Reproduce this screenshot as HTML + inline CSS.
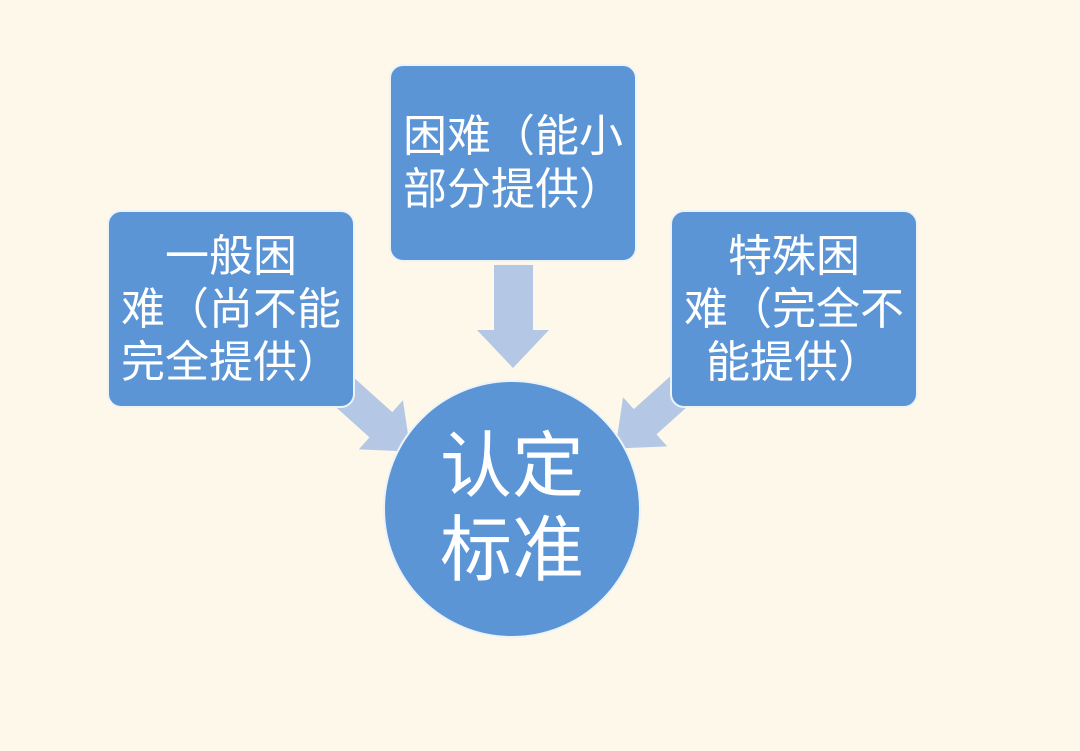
<!DOCTYPE html>
<html><head><meta charset="utf-8"><style>
body{margin:0;width:1080px;height:751px;background:#fdf8e9;position:relative;overflow:hidden;font-family:"Liberation Sans","Noto Sans CJK SC",sans-serif;}
.b{position:absolute;width:244px;height:194px;background:#5b95d5;border:2px solid #eef3f8;border-radius:14px;color:#fff;font-size:44px;line-height:53px;text-align:center;display:flex;align-items:center;justify-content:center;box-sizing:border-box;}
.c{position:absolute;left:383px;top:380px;width:258px;height:258px;border-radius:50%;background:#5b95d5;border:2px solid #eef3f8;box-sizing:border-box;color:#fff;font-size:72px;line-height:84px;display:flex;align-items:center;justify-content:center;text-align:center;}
</style></head><body>
<svg width="1080" height="751" style="position:absolute;left:0;top:0">
<g fill="#b4c8e5">
<polygon points="494,265 533,265 533,330 549,330 513,368 477,330 494,330"/>
<polygon points="0,-17 55,-17 55,-33 95,0 55,33 55,17 0,17" transform="translate(340,388) rotate(42)"/>
<polygon points="0,-17 55,-17 55,-33 95,0 55,33 55,17 0,17" transform="translate(686,385) rotate(138)"/>
</g></svg>
<div class="b" style="left:389px;top:64px;height:198px;width:248px">困难（能小<br>部分提供）</div>
<div class="b" style="left:107px;top:210px;height:198px;width:248px">一般困<br>难（尚不能<br>完全提供）</div>
<div class="b" style="left:670px;top:210px;height:198px;width:248px">特殊困<br>难（完全不<br>能提供）</div>
<div class="c">认定<br>标准</div>
</body></html>
